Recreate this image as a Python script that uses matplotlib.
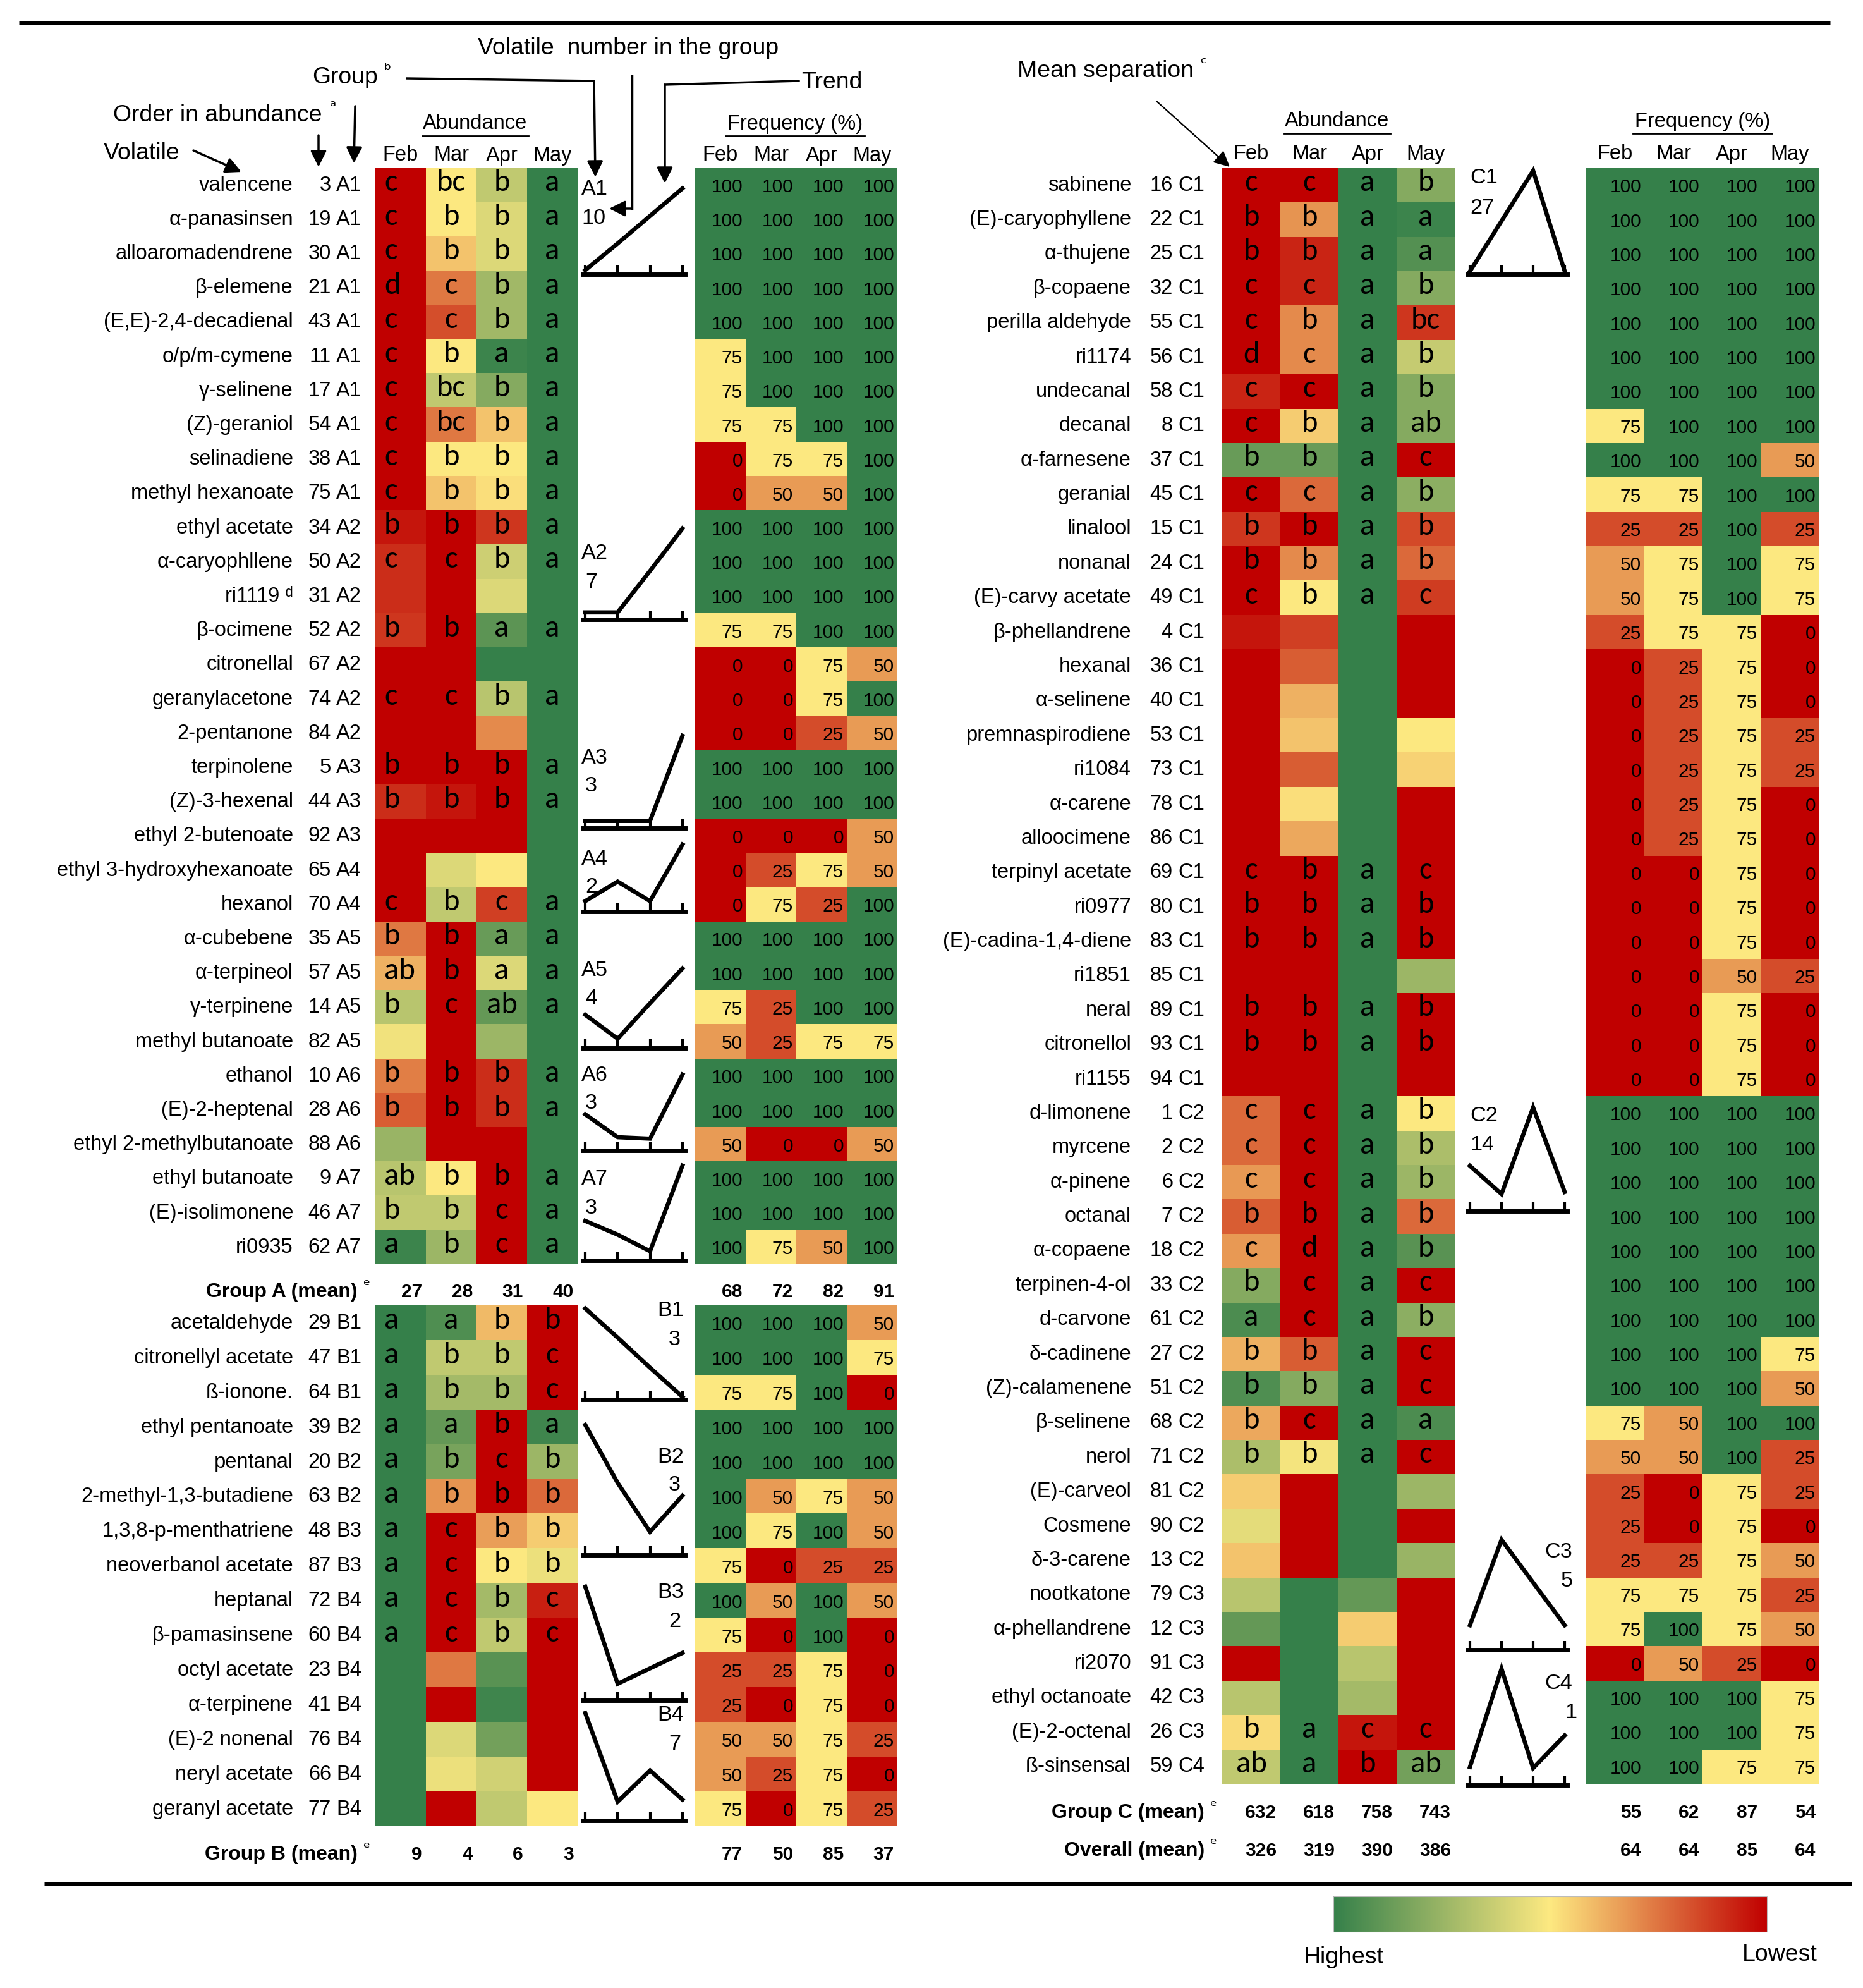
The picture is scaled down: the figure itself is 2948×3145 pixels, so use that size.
import numpy as np
import matplotlib
matplotlib.use('Agg')
import matplotlib.pyplot as plt
from matplotlib import font_manager as fm
from matplotlib.colors import LinearSegmentedColormap, TwoSlopeNorm, Normalize
from matplotlib.cm import ScalarMappable

# ---------------- DATA ----------------
months = ['Feb', 'Mar', 'Apr', 'May']

# Left table, group A
names_A = ['valencene', 'α-panasinsen', 'alloaromadendrene', 'β-elemene', '(E,E)-2,4-decadienal',
           'o/p/m-cymene', 'γ-selinene', '(Z)-geraniol', 'selinadiene', 'methyl hexanoate',
           'ethyl acetate', 'α-caryophllene', 'ri1119 ᵈ', 'β-ocimene', 'citronellal',
           'geranylacetone', '2-pentanone', 'terpinolene', '(Z)-3-hexenal', 'ethyl 2-butenoate',
           'ethyl 3-hydroxyhexanoate', 'hexanol', 'α-cubebene', 'α-terpineol', 'γ-terpinene',
           'methyl butanoate', 'ethanol', '(E)-2-heptenal', 'ethyl 2-methylbutanoate',
           'ethyl butanoate', '(E)-isolimonene', 'ri0935']
order_A = [3, 19, 30, 21, 43, 11, 17, 54, 38, 75, 34, 50, 31, 52, 67, 74, 84, 5, 44, 92,
           65, 70, 35, 57, 14, 82, 10, 28, 88, 9, 46, 62]
group_A = ['A1'] * 10 + ['A2'] * 7 + ['A3'] * 3 + ['A4'] * 2 + ['A5'] * 4 + ['A6'] * 3 + ['A7'] * 3
# relative abundance shade (0 = highest, 1 = lowest) for Feb, Mar, Apr, May
shade_A = [(1.0, 0.50, 0.35, 0.0), (1.0, 0.50, 0.42, 0.0), (1.0, 0.58, 0.42, 0.0),
           (1.0, 0.74, 0.27, 0.0), (1.0, 0.83, 0.27, 0.0), (1.0, 0.50, 0.02, 0.0),
           (1.0, 0.35, 0.20, 0.0), (1.0, 0.74, 0.58, 0.0), (1.0, 0.50, 0.50, 0.0),
           (1.0, 0.58, 0.52, 0.0), (0.95, 1.0, 0.88, 0.0), (0.90, 1.0, 0.38, 0.0),
           (0.90, 1.0, 0.42, 0.0), (0.88, 1.0, 0.10, 0.0), (1.0, 1.0, 0.0, 0.0),
           (1.0, 1.0, 0.33, 0.0), (1.0, 1.0, 0.70, 0.0), (1.0, 1.0, 1.0, 0.0),
           (0.90, 0.95, 1.0, 0.0), (1.0, 1.0, 1.0, 0.0), (1.0, 0.42, 0.50, 0.0),
           (1.0, 0.35, 0.86, 0.0), (0.74, 1.0, 0.13, 0.0), (0.62, 1.0, 0.42, 0.0),
           (0.33, 1.0, 0.12, 0.0), (0.47, 1.0, 0.26, 0.0), (0.73, 1.0, 0.90, 0.0),
           (0.80, 1.0, 0.90, 0.0), (0.25, 1.0, 1.0, 0.0), (0.33, 0.50, 1.0, 0.0),
           (0.35, 0.35, 1.0, 0.0), (0.02, 0.26, 1.0, 0.0)]
letters_A = ['c bc b a', 'c b b a', 'c b b a', 'd c b a', 'c c b a', 'c b a a', 'c bc b a',
             'c bc b a', 'c b b a', 'c b b a', 'b b b a', 'c c b a', '- - - -', 'b b a a',
             '- - - -', 'c c b a', '- - - -', 'b b b a', 'b b b a', '- - - -', '- - - -',
             'c b c a', 'b b a a', 'ab b a a', 'b c ab a', '- - - -', 'b b b a', 'b b b a',
             '- - - -', 'ab b b a', 'b b c a', 'a b c a']
freq_A = [(100, 100, 100, 100), (100, 100, 100, 100), (100, 100, 100, 100), (100, 100, 100, 100),
          (100, 100, 100, 100), (75, 100, 100, 100), (75, 100, 100, 100), (75, 75, 100, 100),
          (0, 75, 75, 100), (0, 50, 50, 100), (100, 100, 100, 100), (100, 100, 100, 100),
          (100, 100, 100, 100), (75, 75, 100, 100), (0, 0, 75, 50), (0, 0, 75, 100),
          (0, 0, 25, 50), (100, 100, 100, 100), (100, 100, 100, 100), (0, 0, 0, 50),
          (0, 25, 75, 50), (0, 75, 25, 100), (100, 100, 100, 100), (100, 100, 100, 100),
          (75, 25, 100, 100), (50, 25, 75, 75), (100, 100, 100, 100), (100, 100, 100, 100),
          (50, 0, 0, 50), (100, 100, 100, 100), (100, 100, 100, 100), (100, 75, 50, 100)]
mean_A_abund = [27, 28, 31, 40]
mean_A_freq = [68, 72, 82, 91]

# Left table, group B
names_B = ['acetaldehyde', 'citronellyl acetate', 'ß-ionone.', 'ethyl pentanoate', 'pentanal',
           '2-methyl-1,3-butadiene', '1,3,8-p-menthatriene', 'neoverbanol acetate', 'heptanal',
           'β-pamasinsene', 'octyl acetate', 'α-terpinene', '(E)-2 nonenal', 'neryl acetate',
           'geranyl acetate']
order_B = [29, 47, 64, 39, 20, 63, 48, 87, 72, 60, 23, 41, 76, 66, 77]
group_B = ['B1'] * 3 + ['B2'] * 3 + ['B3'] * 2 + ['B4'] * 7
shade_B = [(0.0, 0.07, 0.60, 1.0), (0.0, 0.35, 0.35, 1.0), (0.0, 0.28, 0.28, 1.0),
           (0.0, 0.12, 1.0, 0.03), (0.0, 0.17, 1.0, 0.26), (0.0, 0.68, 1.0, 0.77),
           (0.0, 1.0, 0.66, 0.56), (0.0, 1.0, 0.50, 0.46), (0.0, 1.0, 0.28, 0.93),
           (0.0, 1.0, 0.35, 1.0), (0.0, 0.74, 0.09, 1.0), (0.0, 1.0, 0.03, 1.0),
           (0.0, 0.42, 0.16, 1.0), (0.0, 0.46, 0.39, 1.0), (0.0, 1.0, 0.35, 0.50)]
letters_B = ['a a b b', 'a b b c', 'a b b c', 'a a b a', 'a b c b', 'a b b b', 'a c b b',
             'a c b b', 'a c b c', 'a c b c', '- - - -', '- - - -', '- - - -', '- - - -',
             '- - - -']
freq_B = [(100, 100, 100, 50), (100, 100, 100, 75), (75, 75, 100, 0), (100, 100, 100, 100),
          (100, 100, 100, 100), (100, 50, 75, 50), (100, 75, 100, 50), (75, 0, 25, 25),
          (100, 50, 100, 50), (75, 0, 100, 0), (25, 25, 75, 0), (25, 0, 75, 0),
          (50, 50, 75, 25), (50, 25, 75, 0), (75, 0, 75, 25)]
mean_B_abund = [9, 4, 6, 3]
mean_B_freq = [77, 50, 85, 37]

# Right table, group C
names_C = ['sabinene', '(E)-caryophyllene', 'α-thujene', 'β-copaene', 'perilla aldehyde', 'ri1174',
           'undecanal', 'decanal', 'α-farnesene', 'geranial', 'linalool', 'nonanal',
           '(E)-carvy acetate', 'β-phellandrene', 'hexanal', 'α-selinene', 'premnaspirodiene',
           'ri1084', 'α-carene', 'alloocimene', 'terpinyl acetate', 'ri0977',
           '(E)-cadina-1,4-diene', 'ri1851', 'neral', 'citronellol', 'ri1155',
           'd-limonene', 'myrcene', 'α-pinene', 'octanal', 'α-copaene', 'terpinen-4-ol',
           'd-carvone', 'δ-cadinene', '(Z)-calamenene', 'β-selinene', 'nerol', '(E)-carveol',
           'Cosmene', 'δ-3-carene', 'nootkatone', 'α-phellandrene', 'ri2070', 'ethyl octanoate',
           '(E)-2-octenal', 'ß-sinsensal']
order_C = [16, 22, 25, 32, 55, 56, 58, 8, 37, 45, 15, 24, 49, 4, 36, 40, 53, 73, 78, 86, 69, 80,
           83, 85, 89, 93, 94, 1, 2, 6, 7, 18, 33, 61, 27, 51, 68, 71, 81, 90, 13, 79, 12, 91,
           42, 26, 59]
group_C = ['C1'] * 27 + ['C2'] * 14 + ['C3'] * 5 + ['C4'] * 1
shade_C = [(1.0, 1.0, 0.0, 0.20), (1.0, 0.68, 0.0, 0.02), (1.0, 0.92, 0.0, 0.08),
           (1.0, 0.92, 0.0, 0.20), (1.0, 0.70, 0.0, 0.88), (1.0, 0.70, 0.0, 0.36),
           (0.92, 1.0, 0.0, 0.20), (1.0, 0.56, 0.0, 0.20), (0.13, 0.13, 0.0, 1.0),
           (1.0, 0.77, 0.0, 0.22), (0.88, 1.0, 0.0, 0.84), (1.0, 0.70, 0.0, 0.77),
           (1.0, 0.50, 0.0, 0.87), (0.95, 0.86, 0.0, 1.0), (1.0, 0.80, 0.0, 1.0),
           (1.0, 0.62, 0.0, 1.0), (1.0, 0.58, 0.0, 0.50), (1.0, 0.80, 0.0, 0.55),
           (1.0, 0.52, 0.0, 1.0), (1.0, 0.64, 0.0, 1.0), (1.0, 1.0, 0.0, 1.0),
           (1.0, 1.0, 0.0, 1.0), (1.0, 1.0, 0.0, 1.0), (1.0, 1.0, 0.0, 0.26),
           (1.0, 1.0, 0.0, 1.0), (1.0, 1.0, 0.0, 1.0), (1.0, 1.0, 0.0, 1.0),
           (0.77, 1.0, 0.0, 0.50), (0.77, 1.0, 0.0, 0.30), (0.67, 1.0, 0.0, 0.26),
           (0.80, 1.0, 0.0, 0.77), (0.67, 1.0, 0.0, 0.09), (0.20, 1.0, 0.0, 1.0),
           (0.06, 1.0, 0.0, 0.22), (0.62, 0.80, 0.0, 1.0), (0.07, 0.20, 0.0, 1.0),
           (0.64, 1.0, 0.0, 0.06), (0.30, 0.48, 0.0, 1.0), (0.56, 1.0, 0.0, 0.26),
           (0.44, 1.0, 0.0, 1.0), (0.58, 1.0, 0.0, 0.25), (0.33, 0.0, 0.12, 1.0),
           (0.12, 0.0, 0.56, 1.0), (1.0, 0.0, 0.33, 1.0), (0.33, 0.0, 0.28, 1.0),
           (0.53, 0.0, 0.95, 1.0), (0.35, 0.0, 1.0, 0.16)]
letters_C = ['c c a b', 'b b a a', 'b b a a', 'c c a b', 'c b a bc', 'd c a b', 'c c a b',
             'c b a ab', 'b b a c', 'c c a b', 'b b a b', 'b b a b', 'c b a c', '- - - -',
             '- - - -', '- - - -', '- - - -', '- - - -', '- - - -', '- - - -', 'c b a c',
             'b b a b', 'b b a b', '- - - -', 'b b a b', 'b b a b', '- - - -',
             'c c a b', 'c c a b', 'c c a b', 'b b a b', 'c d a b', 'b c a c', 'a c a b',
             'b b a c', 'b b a c', 'b c a a', 'b b a c', '- - - -', '- - - -', '- - - -',
             '- - - -', '- - - -', '- - - -', '- - - -', 'b a c c', 'ab a b ab']
freq_C = [(100, 100, 100, 100)] * 7 + [
          (75, 100, 100, 100), (100, 100, 100, 50), (75, 75, 100, 100), (25, 25, 100, 25),
          (50, 75, 100, 75), (50, 75, 100, 75), (25, 75, 75, 0), (0, 25, 75, 0), (0, 25, 75, 0),
          (0, 25, 75, 25), (0, 25, 75, 25), (0, 25, 75, 0), (0, 25, 75, 0), (0, 0, 75, 0),
          (0, 0, 75, 0), (0, 0, 75, 0), (0, 0, 50, 25), (0, 0, 75, 0), (0, 0, 75, 0),
          (0, 0, 75, 0)] + [(100, 100, 100, 100)] * 7 + [
          (100, 100, 100, 75), (100, 100, 100, 50), (75, 50, 100, 100), (50, 50, 100, 25),
          (25, 0, 75, 25), (25, 0, 75, 0), (25, 25, 75, 50), (75, 75, 75, 25),
          (75, 100, 75, 50), (0, 50, 25, 0), (100, 100, 100, 75), (100, 100, 100, 75),
          (100, 100, 75, 75)]
mean_C_abund = [632, 618, 758, 743]
mean_C_freq = [55, 62, 87, 54]
mean_all_abund = [326, 319, 390, 386]
mean_all_freq = [64, 64, 85, 64]

# Trend profiles (relative level Feb..May) and number of volatiles per sub-group
trend_A1 = [0.02, 0.34, 0.67, 1.0];  count_A1 = 10
trend_A2 = [0.05, 0.05, 0.52, 1.0];  count_A2 = 7
trend_A3 = [0.05, 0.05, 0.05, 1.0];  count_A3 = 3
trend_A4 = [0.13, 0.43, 0.13, 1.0];  count_A4 = 2
trend_A5 = [0.40, 0.09, 0.55, 1.0];  count_A5 = 4
trend_A6 = [0.46, 0.15, 0.13, 1.0];  count_A6 = 3
trend_A7 = [0.40, 0.25, 0.07, 1.0];  count_A7 = 3
trend_B1 = [1.0, 0.67, 0.33, 0.0];   count_B1 = 3
trend_B2 = [0.98, 0.53, 0.15, 0.43]; count_B2 = 3
trend_B3 = [1.0, 0.12, 0.26, 0.40];  count_B3 = 2
trend_B4 = [1.0, 0.15, 0.45, 0.17];  count_B4 = 7
trend_C1 = [0.0, 0.5, 1.0, 0.0];     count_C1 = 27
trend_C2 = [0.42, 0.14, 1.0, 0.16];  count_C2 = 14
trend_C3 = [0.20, 1.0, 0.60, 0.20];  count_C3 = 5
trend_C4 = [0.13, 1.0, 0.12, 0.41];  count_C4 = 1

# ---------------- FONTS ----------------
def has_font(name):
    try:
        fm.findfont(fm.FontProperties(family=name), fallback_to_default=False)
        return True
    except Exception:
        return False

if has_font('Liberation Sans Narrow'):
    NARROW = ['Liberation Sans Narrow', 'DejaVu Sans']
    SCALE = 1.08
elif has_font('DejaVu Sans Condensed'):
    NARROW = ['DejaVu Sans Condensed', 'DejaVu Sans']
    SCALE = 0.96
else:
    NARROW = ['Liberation Sans', 'DejaVu Sans']
    SCALE = 0.98
LETTER = (['Carlito', 'DejaVu Sans'] if has_font('Carlito') else
          ['Lato', 'DejaVu Sans'] if has_font('Lato') else
          ['Open Sans', 'DejaVu Sans'] if has_font('Open Sans') else ['DejaVu Sans'])

NAME_FS = 24 * SCALE
LET_FS = 35
NUM_FS = 22 * SCALE
ANN_FS = 27.5 * SCALE
MEAN_FS = 23.5 * SCALE
MEANNUM_FS = 22 * SCALE

# ---------------- STYLE / LAYOUT ----------------
W, H = 2948, 3145
cmap = LinearSegmentedColormap.from_list('gyr', ['#35804a', '#fde981', '#c00000'])
cmap_r = cmap.reversed()
fnorm = TwoSlopeNorm(vmin=0, vcenter=75, vmax=100)

fig = plt.figure(figsize=(W / 100, H / 100), dpi=100)
ax = fig.add_axes([0, 0, 1, 1])
ax.axis('off')

def box(x0, y0, x1, y1):
    return [x0 / W, 1 - y1 / H, (x1 - x0) / W, (y1 - y0) / H]

def table_block(names, orders, groups, shades, letters, freqs, top, rh,
                name_x, order_x, ab_x0, fr_x0, cw, feb_left):
    n = len(names)
    bottom = top + n * rh
    ax.imshow(np.array(shades), cmap=cmap, vmin=0, vmax=1, aspect='auto',
              interpolation='nearest', extent=(ab_x0, ab_x0 + 4 * cw, bottom, top))
    ax.imshow(np.array(freqs), cmap=cmap_r, norm=fnorm, aspect='auto',
              interpolation='nearest', extent=(fr_x0, fr_x0 + 4 * cw, bottom, top))
    for i in range(n):
        yc = top + (i + 0.5) * rh
        ax.text(name_x, yc, names[i], ha='right', va='center', fontsize=NAME_FS, family=NARROW)
        ax.text(order_x, yc, str(orders[i]), ha='right', va='center', fontsize=NAME_FS,
                family=NARROW)
        ax.text(order_x + 8, yc, groups[i], ha='left', va='center', fontsize=NAME_FS,
                family=NARROW)
        for j, lt in enumerate(letters[i].split()):
            if lt == '-':
                continue
            if j == 0 and feb_left:
                ax.text(ab_x0 + 14, yc - 4, lt, ha='left', va='center',
                        fontsize=LET_FS, family=LETTER)
            else:
                ax.text(ab_x0 + (j + 0.5) * cw, yc - 4, lt, ha='center', va='center',
                        fontsize=LET_FS, family=LETTER)
        for j, v in enumerate(freqs[i]):
            ax.text(fr_x0 + (j + 1) * cw - 5, yc + 3, str(v), ha='right', va='center',
                    fontsize=NUM_FS, family=NARROW)

def mean_row(label, abund, freq, y, label_x, ab_x0, fr_x0, cw):
    ax.text(label_x, y, label, ha='right', va='center', fontsize=MEAN_FS, family=NARROW,
            fontweight='bold')
    ax.text(label_x + 8, y - 9, 'ᵉ', ha='left', va='center', fontsize=19, family=['DejaVu Sans'])
    for j in range(4):
        ax.text(ab_x0 + (j + 1) * cw - 6, y, str(abund[j]), ha='right', va='center',
                fontsize=MEANNUM_FS, family=NARROW, fontweight='bold')
        ax.text(fr_x0 + (j + 1) * cw - 5, y, str(freq[j]), ha='right', va='center',
                fontsize=MEANNUM_FS, family=NARROW, fontweight='bold')

def headers(ab_x0, fr_x0, cw, y_month, y_title, ab_ul, fr_ul):
    for j, m in enumerate(months):
        ax.text(ab_x0 + (j + 0.5) * cw, y_month, m, ha='center', va='center',
                fontsize=NAME_FS, family=NARROW)
        ax.text(fr_x0 + (j + 0.5) * cw, y_month, m, ha='center', va='center',
                fontsize=NAME_FS, family=NARROW)
    ax.text((ab_ul[0] + ab_ul[1]) / 2, y_title, 'Abundance', ha='center', va='center',
            fontsize=NAME_FS, family=NARROW)
    ax.text((fr_ul[0] + fr_ul[1]) / 2, y_title, 'Frequency (%)', ha='center', va='center',
            fontsize=NAME_FS, family=NARROW)
    ax.plot(ab_ul, [y_title + 19] * 2, color='k', lw=2)
    ax.plot(fr_ul, [y_title + 19] * 2, color='k', lw=2)

def glyph(vals, x0, x1, top, base):
    g = fig.add_axes(box(x0 - 4, top, x1 + 4, base))
    g.set_xlim(-0.08, 3.08)
    g.set_ylim(-0.03, 1.0)
    g.plot(range(4), vals, color='k', lw=4.8, solid_joinstyle='miter', clip_on=False)
    for s in ['top', 'left', 'right']:
        g.spines[s].set_visible(False)
    g.spines['bottom'].set_linewidth(5)
    g.set_xticks(range(4))
    g.set_yticks([])
    g.tick_params(axis='x', direction='in', length=10, width=3, labelbottom=False)
    g.patch.set_alpha(0)

# ---------------- LEFT TABLE ----------------
LA_top, LA_rh = 266, 54.2
LB_top, LB_rh = 2066, 54.9
table_block(names_A, order_A, group_A, shade_A, letters_A, freq_A, LA_top, LA_rh,
            464, 524, 594, 1100, 80, True)
table_block(names_B, order_B, group_B, shade_B, letters_B, freq_B, LB_top, LB_rh,
            464, 524, 594, 1100, 80, True)
mean_row('Group A (mean)', mean_A_abund, mean_A_freq, 2044, 566, 594, 1100, 80)
mean_row('Group B (mean)', mean_B_abund, mean_B_freq, 2934, 566, 594, 1100, 80)
headers(594, 1100, 80, 246, 196, [668, 836], [1148, 1368])

# ---------------- RIGHT TABLE ----------------
RC_top, RC_rh = 266, 54.38
table_block(names_C, order_C, group_C, shade_C, letters_C, freq_C, RC_top, RC_rh,
            1790, 1856, 1934, 2510, 92, False)
mean_row('Group C (mean)', mean_C_abund, mean_C_freq, 2868, 1906, 1934, 2510, 92)
mean_row('Overall (mean)', mean_all_abund, mean_all_freq, 2928, 1906, 1934, 2510, 92)
headers(1934, 2510, 92, 244, 192, [2032, 2200], [2584, 2804])

# ---------------- TREND GLYPHS ----------------
LX0, LX1 = 926, 1080
RX0, RX1 = 2326, 2476
glyph_specs = [
    ('A1', trend_A1, count_A1, LX0, LX1, 298, 434, 920, 920, 300, 346),
    ('A2', trend_A2, count_A2, LX0, LX1, 836, 980, 920, 926, 876, 922),
    ('A3', trend_A3, count_A3, LX0, LX1, 1164, 1310, 920, 926, 1200, 1244),
    ('A4', trend_A4, count_A4, LX0, LX1, 1336, 1442, 920, 926, 1360, 1404),
    ('A5', trend_A5, count_A5, LX0, LX1, 1532, 1658, 920, 926, 1536, 1580),
    ('A6', trend_A6, count_A6, LX0, LX1, 1700, 1820, 920, 926, 1702, 1746),
    ('A7', trend_A7, count_A7, LX0, LX1, 1844, 1994, 920, 926, 1866, 1912),
    ('B1', trend_B1, count_B1, LX0, LX1, 2070, 2214, 1040, 1058, 2074, 2120),
    ('B2', trend_B2, count_B2, LX0, LX1, 2250, 2460, 1040, 1058, 2306, 2350),
    ('B3', trend_B3, count_B3, LX0, LX1, 2510, 2690, 1040, 1058, 2520, 2566),
    ('B4', trend_B4, count_B4, LX0, LX1, 2710, 2880, 1040, 1058, 2714, 2760),
    ('C1', trend_C1, count_C1, RX0, RX1, 270, 434, 2326, 2326, 282, 330),
    ('C2', trend_C2, count_C2, RX0, RX1, 1752, 1916, 2326, 2326, 1766, 1812),
    ('C3', trend_C3, count_C3, RX0, RX1, 2436, 2610, 2444, 2470, 2456, 2502),
    ('C4', trend_C4, count_C4, RX0, RX1, 2640, 2824, 2444, 2476, 2664, 2710),
]
for lab, vals, cnt, x0, x1, top, base, lx, cx, ly, cy in glyph_specs:
    glyph(vals, x0, x1, top, base)
    ax.text(lx, ly, lab, ha='left', va='center', fontsize=NAME_FS * 1.05, family=NARROW)
    ax.text(cx, cy, str(cnt), ha='left', va='center', fontsize=NAME_FS * 1.05, family=NARROW)

# ---------------- ANNOTATIONS ----------------
def arrow(x0, y0, x1, y1, lw=2.5, ms=38):
    ax.annotate('', xy=(x1, y1), xytext=(x0, y0),
                arrowprops=dict(arrowstyle='-|>', color='k', lw=lw, mutation_scale=ms,
                                shrinkA=0, shrinkB=0))

SUP = ['DejaVu Sans']
ax.text(994, 76, 'Volatile  number in the group', ha='center', va='center',
        fontsize=ANN_FS, family=NARROW)
ax.text(598, 122, 'Group', ha='right', va='center', fontsize=ANN_FS, family=NARROW)
ax.text(608, 112, 'ᵇ', ha='left', va='center', fontsize=19, family=SUP)
ax.text(1268, 130, 'Trend', ha='left', va='center', fontsize=ANN_FS, family=NARROW)
ax.text(510, 182, 'Order in abundance', ha='right', va='center', fontsize=ANN_FS, family=NARROW)
ax.text(522, 170, 'ᵃ', ha='left', va='center', fontsize=19, family=SUP)
ax.text(164, 242, 'Volatile', ha='left', va='center', fontsize=ANN_FS, family=NARROW)
t_ms = ax.text(1610, 112, 'Mean separation', ha='left', va='center', fontsize=ANN_FS,
               family=NARROW)
ax.set_xlim(0, W)
ax.set_ylim(H, 0)
renderer = fig.canvas.get_renderer()
bb = t_ms.get_window_extent(renderer=renderer)
x_end = ax.transData.inverted().transform((bb.x1, bb.y1))[0]
ax.text(x_end + 10, 102, 'ᶜ', ha='left', va='center', fontsize=19, family=SUP)

ax.plot([644, 940], [124, 128], color='k', lw=2.5)
arrow(940, 128, 942, 280)
ax.plot([1000, 1000], [120, 330], color='k', lw=2.5)
arrow(1000, 330, 964, 330)
ax.plot([1264, 1052], [128, 134], color='k', lw=2.5)
arrow(1052, 134, 1052, 290)
arrow(504, 214, 504, 264)
arrow(562, 168, 560, 258)
arrow(306, 238, 382, 272)
arrow(1830, 160, 1946, 264, lw=1.6)

# Rules
ax.plot([30, 2896], [36, 36], color='k', lw=5, solid_capstyle='butt')
ax.plot([70, 2930], [2980, 2980], color='k', lw=5, solid_capstyle='butt')

# Colour scale legend
cax = fig.add_axes(box(2110, 3000, 2796, 3056))
cb = fig.colorbar(ScalarMappable(norm=Normalize(0, 1), cmap=cmap), cax=cax,
                  orientation='horizontal')
cb.set_ticks([])
cb.outline.set_linewidth(0.8)
cb.outline.set_edgecolor('#bbbbbb')
ax.text(2126, 3096, 'Highest', ha='center', va='center', fontsize=ANN_FS, family=NARROW)
ax.text(2816, 3092, 'Lowest', ha='center', va='center', fontsize=ANN_FS, family=NARROW)

ax.set_xlim(0, W)
ax.set_ylim(H, 0)
fig.savefig('out.png', dpi=100)
